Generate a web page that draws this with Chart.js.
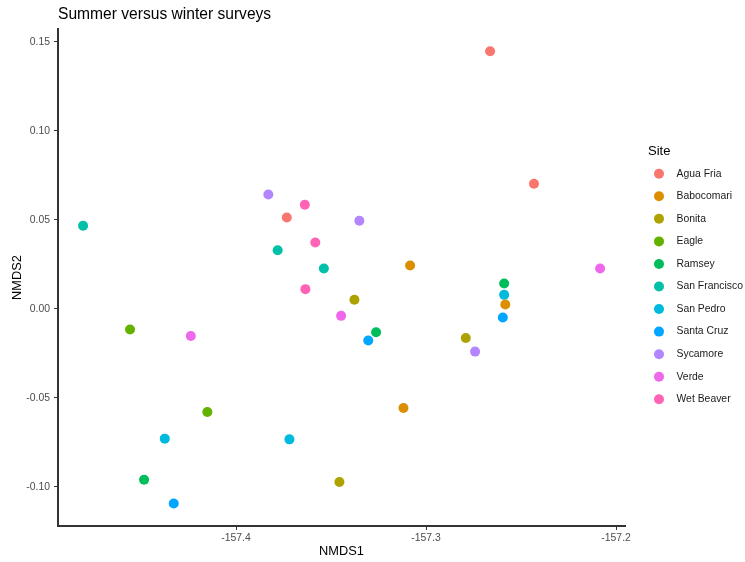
<!DOCTYPE html>
<html>
<head>
<meta charset="utf-8">
<script src="https://cdn.jsdelivr.net/npm/chart.js@4.4.1/dist/chart.umd.min.js"></script>
<style>
  body { margin: 0; background: #fff; }
  #wrap { width: 745px; height: 562px; position: relative; }
</style>
</head>
<body>
<div id="wrap"><canvas id="myChart"></canvas></div>
<script>
const sites = ['Agua Fria', 'Babocomari', 'Bonita', 'Eagle', 'Ramsey', 'San Francisco',
  'San Pedro', 'Santa Cruz', 'Sycamore', 'Verde', 'Wet Beaver'];
const siteColors = ['#F8766D', '#DB8E00', '#AEA200', '#64B200', '#00BD5C', '#00C1A7',
  '#00BADE', '#00A6FF', '#B385FF', '#EF67EB', '#FF63B6'];

// NMDS1 / NMDS2 per site
const nmds1 = [
  [-157.3733, -157.2663, -157.2432],
  [-157.3084, -157.2583, -157.3119],
  [-157.3377, -157.2791, -157.3456],
  [-157.4558, -157.4151],
  [-157.3263, -157.4484, -157.2589],
  [-157.4805, -157.3781, -157.3538],
  [-157.4375, -157.3719, -157.2589],
  [-157.3304, -157.4328, -157.2596],
  [-157.3830, -157.3351, -157.2742],
  [-157.3447, -157.4238, -157.2084],
  [-157.3638, -157.3583, -157.3635]
];
const nmds2 = [
  [0.0514, 0.1448, 0.0703],
  [0.0244, 0.0025, -0.0557],
  [0.0051, -0.0163, -0.0973],
  [-0.0116, -0.0579],
  [-0.0131, -0.0960, 0.0143],
  [0.0467, 0.0330, 0.0227],
  [-0.0729, -0.0733, 0.0079],
  [-0.0178, -0.1094, -0.0048],
  [0.0643, 0.0495, -0.0240],
  [-0.0039, -0.0152, 0.0227],
  [0.0585, 0.0373, 0.0111]
];

const xTicks = [-157.4, -157.3, -157.2];
const yTicks = [-0.10, -0.05, 0.00, 0.05, 0.10, 0.15];

const FONT = '"Liberation Sans", Arial, Helvetica, sans-serif';

const datasets = sites.map((s, i) => ({
  label: s,
  data: nmds1[i].map((x, j) => ({ x: x, y: nmds2[i][j] })),
  backgroundColor: siteColors[i],
  borderColor: siteColors[i],
  borderWidth: 0,
  pointRadius: 5,
  pointHoverRadius: 5
}));

// title + legend drawn on the canvas
const extras = {
  id: 'extras',
  afterDraw(chart) {
    const ctx = chart.ctx;
    ctx.save();
    ctx.fillStyle = '#000';
    ctx.font = '15.6px ' + FONT;
    ctx.textAlign = 'left';
    ctx.textBaseline = 'alphabetic';
    ctx.fillText('Summer versus winter surveys', chart.chartArea.left, 18.5);

    ctx.font = '13px ' + FONT;
    ctx.textBaseline = 'middle';
    ctx.fillText('Site', 648, 151);
    ctx.font = '10.4px ' + FONT;
    sites.forEach((s, i) => {
      const y = 173.7 + i * 22.56;
      ctx.beginPath();
      ctx.arc(659, y, 5, 0, Math.PI * 2);
      ctx.fillStyle = siteColors[i];
      ctx.fill();
      ctx.fillStyle = '#1a1a1a';
      ctx.fillText(s, 676.5, y);
    });
    ctx.restore();
  }
};

const ctx = document.getElementById('myChart').getContext('2d');
const myChart = new Chart(ctx, {
  type: 'scatter',
  data: { datasets: datasets },
  options: {
    responsive: true,
    maintainAspectRatio: false,
    animation: false,
    layout: { padding: { left: 0, top: 29, right: 120, bottom: 0 } },
    plugins: {
      legend: { display: false },
      title: { display: false },
      tooltip: { enabled: false }
    },
    scales: {
      x: {
        type: 'linear',
        min: -157.4937,
        max: -157.1953,
        afterBuildTicks: (scale) => { scale.ticks = xTicks.map(v => ({ value: v })); },
        afterFit: (scale) => { scale.height = 36; },
        grid: { drawOnChartArea: false, drawTicks: true, tickLength: 4, color: '#333' },
        border: { display: true, color: '#333', width: 2 },
        ticks: {
          padding: 1.5,
          color: '#4D4D4D',
          font: { family: FONT, size: 10.4 },
          callback: (v) => Number(v).toFixed(1)
        },
        title: {
          display: true,
          text: 'NMDS1',
          color: '#000',
          font: { family: FONT, size: 12.8 },
          padding: { top: 0, bottom: 2.5 }
        }
      },
      y: {
        type: 'linear',
        min: -0.1220,
        max: 0.1573,
        afterBuildTicks: (scale) => { scale.ticks = yTicks.map(v => ({ value: v })); },
        afterFit: (scale) => { scale.width = 58; },
        grid: { drawOnChartArea: false, drawTicks: true, tickLength: 4, color: '#333' },
        border: { display: true, color: '#333', width: 2 },
        ticks: {
          padding: 4,
          color: '#4D4D4D',
          font: { family: FONT, size: 10.4 },
          callback: (v) => Number(v).toFixed(2)
        },
        title: {
          display: true,
          text: 'NMDS2',
          color: '#000',
          font: { family: FONT, size: 12.8 },
          padding: { top: 10, bottom: 0 }
        }
      }
    }
  },
  plugins: [extras]
});
</script>
</body>
</html>
